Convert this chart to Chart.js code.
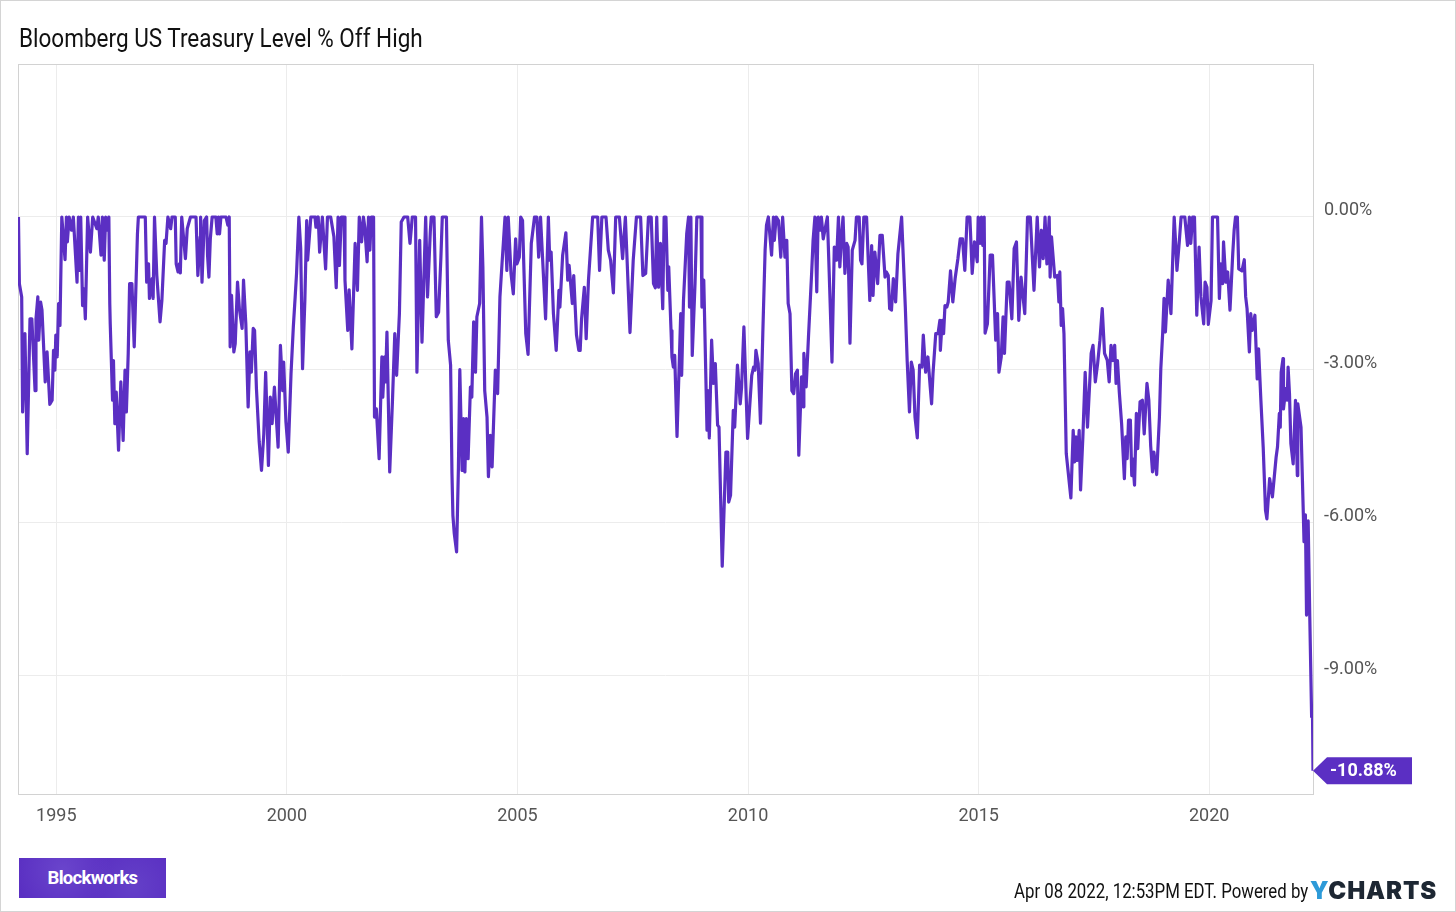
<!DOCTYPE html>
<html>
<head>
<meta charset="utf-8">
<script src="https://cdn.jsdelivr.net/npm/chart.js@4"></script>
<style>
  html, body { margin: 0; padding: 0; background: #fff; }
  #wrap { position: relative; width: 1456px; height: 912px; overflow: hidden; font-family: Roboto, sans-serif; }
  #frame { position: absolute; left: 0; top: 0; width: 1454px; height: 910px; border: 1px solid #d4d4d4; pointer-events: none; }
  #title { position: absolute; left: 19px; top: 23px; font-size: 25.5px; line-height: 30px; color: #111; white-space: nowrap; transform: scaleX(.883); transform-origin: left top; }
  #logo { position: absolute; left: 19px; top: 858px; width: 147px; height: 40px; color: #fff; font-weight: 700; font-size: 18.5px; line-height: 41px; text-align: center; letter-spacing: -.7px;
    background: radial-gradient(circle at 30% 30%, #6a45cc 0, transparent 45%), radial-gradient(circle at 78% 70%, #6440c8 0, transparent 40%), #5a2fc2; }
  #stamp { position: absolute; right: 148px; top: 880px; font-size: 19.5px; line-height: 24px; color: #111; white-space: nowrap; transform: scaleX(.862); transform-origin: right top; }
  #brand { position: absolute; left: 1310px; top: 877px; font-size: 24px; line-height: 28px; font-weight: 900; letter-spacing: .9px; color: #1d2733; white-space: nowrap; font-family: Inter, Roboto, sans-serif; }
  #brand span { color: #2d9ad8; }
  canvas { position: absolute; left: 0; top: 0; }
</style>
</head>
<body>
<div id="wrap">
  <canvas id="chart" width="1456" height="912"></canvas>
  <div id="title">Bloomberg US Treasury Level % Off High</div>
  <div id="logo">Blockworks</div>
  <div id="stamp">Apr 08 2022, 12:53PM EDT. Powered by</div>
  <div id="brand"><span>Y</span>CHARTS</div>
  <div id="frame"></div>
</div>
<script>
const xTicks = [1995, 2000, 2005, 2010, 2015, 2020];
const yTicks = [0, -3, -6, -9];

// values, in decimal years and % off high
const dates1990s = [
  1994.18,1994.20,1994.25,1994.27,1994.32,1994.37,1994.43,1994.47,1994.54,1994.56,
  1994.60,1994.62,1994.66,1994.69,1994.76,1994.80,1994.86,1994.91,1994.94,1994.97,
  1994.99,1995.02,1995.05,1995.08,1995.12,1995.19,1995.22,1995.24,1995.28,1995.33,
  1995.37,1995.45,1995.48,1995.50,1995.53,1995.57,1995.60,1995.63,1995.68,1995.74,
  1995.79,1995.88,1995.91,1995.97,1996.00,1996.04,1996.07,1996.10,1996.14,1996.16,
  1996.17,1996.22,1996.24,1996.27,1996.30,1996.35,1996.40,1996.45,1996.49,1996.52,
  1996.56,1996.59,1996.64,1996.69,1996.76,1996.78,1996.93,1996.96,1997.00,1997.02,
  1997.08,1997.10,1997.13,1997.18,1997.25,1997.29,1997.35,1997.38,1997.42,1997.48,
  1997.51,1997.58,1997.60,1997.64,1997.67,1997.69,1997.72,1997.80,1997.84,1997.91,
  1998.03,1998.07,1998.12,1998.13,1998.16,1998.21,1998.26,1998.28,1998.31,1998.34,
  1998.38,1998.46,1998.49,1998.52,1998.54,1998.57,1998.68,1998.72,1998.75,1998.77,
  1998.80,1998.85,1998.88,1998.93,1998.97,1999.03,1999.06,1999.11,1999.16,1999.20,
  1999.23,1999.27,1999.30,1999.34,1999.40,1999.45,1999.50,1999.54,1999.60,1999.64,
  1999.68,1999.73,1999.81,1999.86,1999.91,1999.93,1999.98
];
const values1990s = [
  0,-1.31,-1.57,-3.83,-2.29,-4.65,-2.00,-2.00,-3.41,-2.00,
  -1.57,-2.42,-1.67,-1.83,-3.24,-2.65,-3.68,-3.60,-2.62,-3.01,
  -2.32,-2.75,-1.70,-2.13,0,-0.84,0,-0.49,0,-0.26,
  0,-1.28,0,-1.05,0,-1.74,-1.41,-2.00,0,-0.69,
  0,-0.23,0,-0.75,0,-0.85,0,-0.26,0,-1.70,
  -2.10,-3.60,-2.82,-4.06,-3.44,-4.58,-3.24,-4.39,-3.01,-3.83,
  -2.68,-1.31,-1.31,-2.55,-0.33,0,0,-1.28,-0.92,-1.60,
  -1.21,-1.60,0,-1.15,-2.06,-1.64,-0.46,-0.52,0,-0.23,
  0,0,-0.92,-1.08,-0.92,-1.10,0,-0.82,-0.23,0,
  0,-1.15,-0.39,0,-1.28,-0.07,0,-0.75,-1.18,-0.43,
  0,0,-0.33,0,-0.33,0,0,-0.16,0,-2.55,
  -1.54,-2.65,-2.49,-1.28,-1.80,-2.19,-1.24,-2.10,-3.73,-2.65,
  -3.05,-2.19,-2.23,-3.37,-4.42,-4.98,-4.26,-3.05,-4.88,-3.54,
  -4.06,-3.34,-4.52,-2.52,-3.41,-2.85,-4.03
];

const dates2000s = [
  2000.03,2000.09,2000.14,2000.18,2000.21,2000.26,2000.30,2000.34,2000.39,2000.43,
  2000.45,2000.52,2000.61,2000.63,2000.68,2000.71,2000.77,2000.84,2000.88,2000.95,
  2001.02,2001.07,2001.11,2001.14,2001.18,2001.24,2001.26,2001.32,2001.35,2001.41,
  2001.48,2001.53,2001.57,2001.62,2001.66,2001.69,2001.74,2001.77,2001.80,2001.83,
  2001.88,2001.90,2001.94,2002.00,2002.06,2002.08,2002.12,2002.14,2002.17,2002.23,
  2002.29,2002.34,2002.38,2002.44,2002.48,2002.54,2002.62,2002.67,2002.72,2002.79,
  2002.82,2002.88,2002.93,2003.01,2003.05,2003.11,2003.13,2003.19,2003.24,2003.29,
  2003.34,2003.37,2003.46,2003.50,2003.55,2003.58,2003.60,2003.63,2003.68,2003.72,
  2003.75,2003.80,2003.83,2003.86,2003.89,2003.93,2003.98,2004.01,2004.05,2004.09,
  2004.12,2004.18,2004.22,2004.25,2004.29,2004.34,2004.37,2004.41,2004.45,2004.52,
  2004.57,2004.62,2004.67,2004.73,2004.77,2004.80,2004.86,2004.91,2004.96,2004.99,
  2005.04,2005.07,2005.11,2005.18,2005.23,2005.30,2005.37,2005.42,2005.46,2005.50,
  2005.61,2005.67,2005.70,2005.73,2005.78,2005.84,2005.90,2005.92,2005.98,2006.05,
  2006.09,2006.12,2006.19,2006.22,2006.28,2006.33,2006.36,2006.39,2006.45,2006.49,
  2006.54,2006.63,2006.74,2006.78,2006.83,2006.92,2006.97,2007.02,2007.08,2007.13,
  2007.21,2007.28,2007.34,2007.44,2007.51,2007.58,2007.67,2007.72,2007.78,2007.84,
  2007.90,2007.95,2007.99,2008.02,2008.06,2008.10,2008.15,2008.18,2008.22,2008.26,
  2008.28,2008.33,2008.35,2008.38,2008.41,2008.46,2008.54,2008.56,2008.60,2008.67,
  2008.71,2008.73,2008.76,2008.79,2008.85,2008.89,2008.98,2009.00,2009.04,2009.11,
  2009.13,2009.16,2009.21,2009.25,2009.29,2009.34,2009.37,2009.44,2009.52,2009.56,
  2009.58,2009.62,2009.68,2009.71,2009.77,2009.83,2009.86,2009.91,2009.99
];
const values2000s = [
  -4.62,-3.08,-2.16,-1.57,-1.11,0,-0.62,-2.98,-1.64,-0.07,
  -0.85,0,0,-0.20,0,-0.69,0,-1.02,0,0,
  -0.39,-1.39,0,-0.95,0,0,-1.24,-2.23,-1.43,-2.59,
  -0.52,-1.44,0,-0.49,0,-0.20,-0.88,0,-0.65,0,
  0,-3.93,-3.77,-4.75,-2.75,-3.54,-2.75,-3.24,-2.26,-5.01,
  -3.60,-2.29,-3.11,-1.90,-0.10,0,0,-0.52,0,0,
  -3.05,-0.46,-2.46,0,-1.57,-0.29,0,0,-1.96,-1.87,
  -0.79,0,0,-2.42,-2.91,-5.04,-5.86,-6.22,-6.58,-4.91,
  -3.00,-4.98,-3.96,-5.01,-3.96,-4.75,-3.34,-3.54,-2.06,-3.05,
  -1.96,-1.70,0,-0.98,-3.41,-3.93,-5.10,-4.29,-4.91,-3.01,
  -3.47,-1.57,-0.85,0,-1.05,0,-1.11,-1.51,-0.43,-0.92,
  -0.79,0,-0.07,-2.29,-2.70,-0.52,0,0,-0.79,0,
  -2.00,0,-0.85,-0.69,-1.90,-2.62,-1.44,-1.77,-0.75,-0.31,
  -1.24,-0.95,-1.70,-1.15,-2.32,-2.62,-2.62,-2.00,-1.38,-2.39,
  -1.24,0,0,-1.05,0,0,-0.65,-0.85,-1.49,0,
  0,-0.82,0,-2.27,-0.85,0,0,-1.15,-1.11,0,
  0,-1.31,-1.39,0,-1.38,-0.52,-1.80,0,0,-1.44,
  -0.98,-2.23,-2.75,-2.95,-2.72,-4.31,-1.90,-3.11,-1.64,-0.33,
  0,-1.77,0,-2.72,-1.31,0,0,-1.77,-1.24,-4.19,
  -3.41,-4.34,-2.42,-3.27,-2.88,-4.09,-4.13,-6.86,-4.62,-4.62,
  -5.60,-5.47,-3.80,-4.13,-2.91,-3.67,-3.34,-2.16,-4.35
];

const dates2010s = [
  2010.08,2010.12,2010.15,2010.17,2010.22,2010.27,2010.32,2010.37,2010.40,2010.44,
  2010.51,2010.55,2010.57,2010.61,2010.66,2010.71,2010.75,2010.80,2010.84,2010.87,
  2010.91,2010.95,2010.99,2011.03,2011.07,2011.10,2011.16,2011.20,2011.21,2011.26,
  2011.31,2011.38,2011.41,2011.45,2011.49,2011.52,2011.56,2011.59,2011.63,2011.72,
  2011.76,2011.82,2011.87,2011.92,2011.96,2011.99,2012.03,2012.06,2012.10,2012.14,
  2012.17,2012.21,2012.26,2012.32,2012.35,2012.41,2012.44,2012.47,2012.51,2012.57,
  2012.64,2012.68,2012.71,2012.75,2012.81,2012.86,2012.91,2012.97,2013.00,2013.04,
  2013.07,2013.11,2013.15,2013.20,2013.25,2013.33,2013.41,2013.45,2013.50,2013.54,
  2013.58,2013.62,2013.67,2013.72,2013.77,2013.80,2013.85,2013.90,2013.95,2013.98,
  2014.01,2014.07,2014.12,2014.16,2014.17,2014.21,2014.24,2014.27,2014.31,2014.34,
  2014.39,2014.44,2014.49,2014.55,2014.60,2014.65,2014.70,2014.75,2014.81,2014.86,
  2014.91,2014.97,2014.99,2015.03,2015.06,2015.09,2015.12,2015.14,2015.19,2015.25,
  2015.30,2015.37,2015.41,2015.44,2015.49,2015.53,2015.56,2015.62,2015.66,2015.72,
  2015.77,2015.82,2015.87,2015.92,2016.00,2016.06,2016.12,2016.20,2016.27,2016.32,
  2016.36,2016.40,2016.44,2016.48,2016.53,2016.55,2016.58,2016.65,2016.71,2016.74,
  2016.76,2016.79,2016.82,2016.85,2016.90,2017.00,2017.05,2017.08,2017.11,2017.14,
  2017.18,2017.21,2017.26,2017.31,2017.36,2017.44,2017.48,2017.53,2017.58,2017.63,
  2017.68,2017.73,2017.79,2017.83,2017.87,2017.91,2017.95,2017.98,2018.01,2018.05,
  2018.10,2018.16,2018.19,2018.22,2018.25,2018.29,2018.32,2018.34,2018.38,2018.42,
  2018.45,2018.50,2018.55,2018.59,2018.65,2018.69,2018.73,2018.77,2018.80,2018.86,
  2018.92,2018.95,2018.99,2019.02,2019.05,2019.11,2019.17,2019.20,2019.24,2019.27,
  2019.30,2019.35,2019.39,2019.47,2019.53,2019.57,2019.60,2019.64,2019.68,2019.73,
  2019.78,2019.82,2019.88,2019.91,2019.95,2019.98
];
const values2010s = [
  -3.11,-2.95,-3.01,-2.62,-2.88,-4.05,-2.29,-0.65,-0.16,0,
  -0.75,0,-0.46,0,-0.07,-0.79,0,-0.79,-0.46,-1.70,
  -1.90,-3.41,-3.47,-3.08,-3.01,-4.68,-3.14,-3.73,-2.68,-3.34,
  -2.36,-1.08,-0.46,0,-1.47,0,-0.26,0,-0.43,0,
  -1.11,-2.85,-0.59,-0.85,0,-0.98,-0.33,0,-1.11,-0.52,
  -0.59,-2.48,-0.65,-0.46,0,0,-0.85,-0.92,0,0,
  -1.64,-0.56,-1.54,-0.69,-1.31,-0.36,-0.36,-1.18,-1.08,-1.15,
  -1.80,-1.83,-1.21,-1.67,-0.72,0,-1.77,-2.82,-3.83,-2.85,
  -3.01,-3.93,-4.34,-2.91,-2.95,-2.32,-3.05,-2.75,-3.34,-3.67,
  -3.08,-2.29,-2.29,-2.03,-2.62,-2.03,-2.29,-1.74,-1.77,-1.67,
  -1.06,-1.67,-1.21,-0.82,-0.43,-0.43,-1.05,0,0,-1.11,
  -0.49,-0.88,0,-0.52,0,-0.56,0,-2.28,-2.10,-0.75,
  -0.75,-2.42,-1.90,-3.05,-2.75,-1.96,-2.68,-1.28,-1.28,-2.00,
  -0.62,-0.49,-2.03,-1.18,-1.90,0,0,-1.44,0,-0.98,
  -0.26,-0.82,0,-0.92,0,-1.18,-0.39,-1.18,-1.15,-1.67,
  -1.08,-2.13,-1.80,-2.29,-4.65,-5.52,-4.19,-4.81,-4.32,-4.78,
  -4.19,-5.36,-4.32,-3.05,-4.13,-2.68,-2.52,-3.24,-2.88,-2.42,
  -1.80,-2.68,-2.82,-3.24,-2.52,-2.82,-2.52,-3.27,-2.82,-3.44,
  -4.06,-5.14,-4.32,-4.75,-3.99,-3.99,-5.08,-4.75,-5.27,-3.86,
  -4.55,-3.63,-3.60,-4.26,-3.27,-3.60,-4.49,-5.01,-4.62,-5.06,
  -3.93,-2.98,-2.29,-1.60,-2.26,-1.24,-1.90,-1.05,0,-0.49,
  -1.05,-0.49,0,0,-0.56,0,-0.52,0,0,-1.93,
  -0.59,-1.57,-2.10,-1.28,-1.38,-2.11
];

const dates2020s = [
  2020.04,2020.07,2020.11,2020.18,2020.22,2020.25,2020.29,2020.31,2020.36,2020.40,
  2020.45,2020.51,2020.54,2020.57,2020.61,2020.64,2020.71,2020.76,2020.79,2020.82,
  2020.87,2020.90,2020.93,2020.99,2021.04,2021.07,2021.12,2021.17,2021.22,2021.25,
  2021.31,2021.37,2021.45,2021.48,2021.52,2021.54,2021.56,2021.60,2021.61,2021.66,
  2021.69,2021.71,2021.74,2021.77,2021.82,2021.87,2021.91,2021.92,2021.99,2022.04,
  2022.055,2022.085,2022.11,2022.145,2022.18,2022.22,2022.24,2022.25
];
const values2020s = [
  -1.64,0,0,0,-1.60,-0.92,-1.31,-0.49,-1.28,-1.08,
  -1.83,-0.72,-0.26,0,0,-1.02,-1.06,-0.84,-1.57,-1.80,
  -2.65,-1.90,-2.23,-1.93,-3.18,-2.59,-3.60,-4.52,-5.76,-5.93,
  -5.14,-5.50,-4.72,-4.52,-3.86,-4.13,-3.05,-2.78,-3.77,-3.37,
  -3.60,-2.95,-3.47,-4.45,-4.85,-3.60,-5.08,-3.67,-4.13,-5.82,
  -6.38,-5.85,-7.82,-5.97,-7.85,-9.82,-9.82,-10.88
];

const dates = [...dates1990s, ...dates2000s, ...dates2010s, ...dates2020s];
const offHigh = [...values1990s, ...values2000s, ...values2010s, ...values2020s];
const purple = '#5b2fc3';

// plot outline and the end of line value tag
const frameAndTag = {
  id: 'frameAndTag',
  beforeDatasetsDraw(chart) {
    const { ctx, chartArea: a } = chart;
    ctx.save();
    ctx.strokeStyle = '#d2d2d2';
    ctx.lineWidth = 1;
    ctx.strokeRect(a.left + .5, a.top - .5, a.right - a.left, a.bottom - a.top + 1);
    ctx.restore();
  },
  afterDraw(chart) {
    const { ctx, scales } = chart;
    const last = offHigh[offHigh.length - 1];
    const x = scales.x.getPixelForValue(dates[dates.length - 1]);
    const y = scales.y.getPixelForValue(last);
    ctx.save();
    ctx.fillStyle = purple;
    ctx.beginPath();
    ctx.moveTo(x, y);
    ctx.lineTo(x + 14, y - 13.5);
    ctx.lineTo(x + 99, y - 13.5);
    ctx.lineTo(x + 99, y + 13.5);
    ctx.lineTo(x + 14, y + 13.5);
    ctx.closePath();
    ctx.fill();
    ctx.fillStyle = '#fff';
    ctx.font = '700 18px Roboto';
    ctx.textBaseline = 'middle';
    ctx.fillText(last.toFixed(2) + '%', x + 17, y + 1);
    ctx.restore();
  }
};

new Chart(document.getElementById('chart').getContext('2d'), {
  type: 'line',
  data: {
    datasets: [{
      data: dates.map((d, i) => ({ x: d, y: offHigh[i] })),
      borderColor: purple,
      borderWidth: 3.2,
      borderJoinStyle: 'round',
      pointRadius: 0,
      tension: 0
    }]
  },
  options: {
    responsive: false,
    animation: false,
    layout: { padding: { left: 18, top: 65, right: 0, bottom: 0 } },
    plugins: { legend: { display: false }, tooltip: { enabled: false } },
    scales: {
      x: {
        type: 'linear',
        min: 1994.17,
        max: 2022.25,
        afterBuildTicks: scale => { scale.ticks = xTicks.map(v => ({ value: v })); },
        afterFit: scale => { scale.height = 118; },
        ticks: {
          autoSkip: false,
          maxRotation: 0,
          padding: 12,
          color: '#555',
          font: { family: 'Roboto', size: 18 },
          callback: v => String(v)
        },
        grid: { color: '#ececec', lineWidth: 1, drawTicks: false },
        border: { display: false }
      },
      y: {
        position: 'right',
        min: -11.336,
        max: 2.986,
        afterBuildTicks: scale => { scale.ticks = yTicks.map(v => ({ value: v })); },
        afterFit: scale => { scale.width = 143; },
        ticks: {
          autoSkip: false,
          padding: 11,
          labelOffset: -6,
          color: '#555',
          font: { family: 'Roboto', size: 18 },
          callback: v => v.toFixed(2) + '%'
        },
        grid: { color: '#ececec', lineWidth: 1, drawTicks: false },
        border: { display: false }
      }
    }
  },
  plugins: [frameAndTag]
});
</script>
</body>
</html>
